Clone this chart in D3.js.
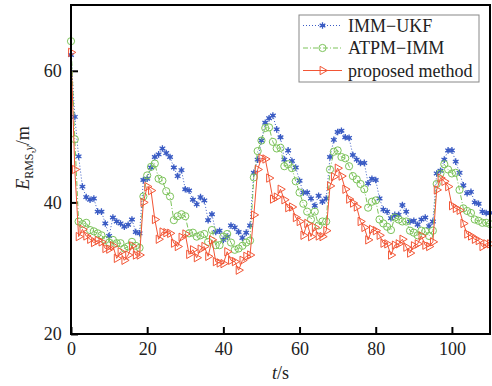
<!DOCTYPE html>
<html>
<head>
<meta charset="utf-8">
<script src="https://cdn.jsdelivr.net/npm/d3@7"></script>
<style>
  body { margin: 0; background: #fff; }
  text { font-family: "Liberation Serif", "Times New Roman", serif; }
</style>
</head>
<body>
<div id="chart"></div>
<script>
// values, one per second from t = 0 to 110
var immUkf = [62.4, 53.0, 47.0, 42.4, 40.8, 40.4, 40.6, 38.6, 38.6, 36.8,
  34.9, 37.7, 37.1, 36.8, 36.3, 36.6, 37.4, 35.5, 35.3, 43.4,
  43.6, 45.3, 46.9, 47.3, 48.2, 47.5, 46.9, 45.3, 44.0, 44.9,
  42.0, 41.8, 40.4, 39.7, 40.8, 40.3, 37.3, 38.2, 35.5, 35.7,
  34.3, 34.8, 36.5, 36.2, 35.5, 34.6, 35.4, 36.5, 44.5, 46.5,
  49.4, 52.1, 52.8, 53.2, 51.1, 49.9, 46.5, 47.9, 46.3, 45.3,
  43.3, 41.5, 41.5, 40.6, 39.5, 41.0, 40.1, 40.6, 46.9, 49.5,
  50.7, 50.9, 49.9, 49.8, 47.2, 46.5, 46.0, 46.0, 42.9, 43.6,
  43.4, 40.6, 38.9, 38.6, 37.6, 38.1, 38.1, 39.6, 38.6, 37.1,
  37.2, 36.6, 37.4, 37.7, 36.4, 37.1, 44.4, 44.8, 46.5, 47.9,
  47.9, 46.2, 44.5, 42.6, 41.4, 41.6, 40.0, 39.8, 38.6, 38.4, 38.4];

var atpmImm = [64.5, 49.6, 37.1, 36.7, 36.9, 35.8, 35.6, 35.3, 35.0, 34.3,
  33.9, 34.3, 33.8, 33.8, 33.0, 33.3, 34.0, 33.4, 33.1, 40.9,
  44.1, 45.4, 45.9, 43.6, 43.3, 41.7, 40.9, 37.3, 37.9, 38.2,
  37.9, 35.3, 35.4, 34.8, 35.0, 35.2, 34.0, 35.8, 33.5, 33.5,
  34.8, 35.2, 33.9, 32.8, 33.0, 33.4, 33.9, 34.2, 43.8, 47.8,
  49.4, 51.3, 51.4, 49.2, 48.2, 48.3, 45.5, 45.8, 45.2, 43.2,
  41.5, 39.8, 38.6, 37.4, 38.6, 36.5, 37.1, 37.1, 45.0, 47.7,
  47.9, 46.9, 46.7, 45.5, 44.0, 43.5, 42.8, 42.0, 39.2, 40.1,
  40.3, 37.4, 36.8, 36.3, 35.8, 37.7, 37.4, 37.1, 37.1, 35.7,
  35.4, 35.0, 35.7, 35.6, 34.9, 35.7, 42.8, 44.4, 45.8, 45.0,
  44.4, 44.5, 41.9, 39.1, 38.7, 38.4, 37.4, 37.2, 36.9, 36.9, 36.7];

var proposed = [62.8, 45.0, 34.8, 35.9, 34.9, 34.4, 33.9, 34.2, 34.0, 33.0,
  32.9, 33.4, 31.5, 32.5, 31.2, 32.0, 33.4, 32.0, 32.0, 40.0,
  42.4, 41.8, 37.4, 34.4, 35.5, 35.4, 35.3, 33.8, 33.3, 34.7,
  35.2, 32.1, 32.8, 31.6, 32.9, 33.3, 31.8, 34.3, 31.0, 30.8,
  30.7, 32.5, 31.2, 31.0, 29.7, 31.2, 31.8, 32.0, 38.1, 45.0,
  46.7, 46.6, 43.7, 40.5, 40.8, 42.0, 40.4, 39.2, 39.3, 37.7,
  37.1, 35.0, 36.8, 34.8, 36.2, 34.9, 34.8, 35.7, 42.5, 43.9,
  45.2, 44.0, 42.0, 40.5, 39.9, 39.3, 37.1, 36.2, 34.3, 35.9,
  35.7, 35.0, 33.8, 33.7, 32.0, 33.5, 33.7, 34.4, 33.2, 32.3,
  33.4, 33.7, 34.9, 33.5, 33.3, 34.0, 41.9, 43.7, 43.2, 42.4,
  39.5, 39.1, 38.8, 36.8, 35.2, 34.9, 34.4, 34.2, 33.3, 33.7, 33.7];

var seriesNames = ["IMM\u2212UKF", "ATPM\u2212IMM", "proposed method"];
var xTicks = [0, 20, 40, 60, 80, 100];
var yTicks = [20, 40, 60];

var margin = { top: 5, right: 2, bottom: 52, left: 71 },
    width = 492 - margin.left - margin.right,
    height = 386 - margin.top - margin.bottom;

var svg = d3.select("#chart").append("svg")
    .attr("width", 492)
    .attr("height", 386);

var g = svg.append("g")
    .attr("transform", "translate(" + margin.left + "," + margin.top + ")");

var xScale = d3.scaleLinear().domain([0, 110]).range([0, width]);
var yScale = d3.scaleLinear().domain([20, 70]).range([height, 0]);

// axes: inward ticks, labels outside
var xAxis = d3.axisBottom(xScale).tickValues(xTicks).tickSizeInner(-7).tickSizeOuter(0).tickPadding(11);
var yAxis = d3.axisLeft(yScale).tickValues(yTicks).tickSizeInner(-7).tickSizeOuter(0).tickPadding(11);

var xg = g.append("g")
    .attr("transform", "translate(0," + height + ")")
    .call(xAxis);
var yg = g.append("g").call(yAxis);

[xg, yg].forEach(function (ax) {
    ax.select(".domain").remove();
    ax.selectAll(".tick line").attr("stroke", "#000").attr("stroke-width", 2);
    ax.selectAll(".tick text")
        .attr("fill", "#222")
        .style("font-size", "18px")
        .style("font-family", "'Liberation Serif', serif");
});
xg.selectAll(".tick text").attr("dy", "0.55em");
yg.selectAll(".tick text").attr("dx", "0.1em");

var series = [
    { name: seriesNames[0], values: immUkf, color: "#3b5cc4", dash: "1,2", symbol: "star" },
    { name: seriesNames[1], values: atpmImm, color: "#7cc35a", dash: "5,2,1,2", symbol: "circle" },
    { name: seriesNames[2], values: proposed, color: "#f25535", dash: null, symbol: "tri" }
];

var line = d3.line()
    .x(function (d, i) { return xScale(i); })
    .y(function (d) { return yScale(d); });

function drawMarker(sel, s) {
    if (s.symbol == "star") {
        sel.append("path")
            .attr("d", d3.symbol().type(d3.symbolAsterisk).size(30))
            .attr("fill", "none")
            .attr("stroke", s.color)
            .attr("stroke-width", 1.3);
        sel.append("circle")
            .attr("r", 1.8)
            .attr("fill", s.color);
    } else if (s.symbol == "circle") {
        sel.append("circle")
            .attr("r", 3.6)
            .attr("fill", "none")
            .attr("stroke", s.color)
            .attr("stroke-width", 1);
    } else {
        sel.append("path")
            .attr("d", d3.symbol().type(d3.symbolTriangle).size(30))
            .attr("transform", "rotate(90)")
            .attr("fill", "none")
            .attr("stroke", s.color)
            .attr("stroke-width", 1);
    }
}

var plot = g.append("g");

series.forEach(function (s) {
    plot.append("path")
        .datum(s.values)
        .attr("d", line)
        .attr("fill", "none")
        .attr("stroke", s.color)
        .attr("stroke-width", 1)
        .attr("stroke-dasharray", s.dash);

    plot.selectAll(".m-" + s.symbol)
        .data(s.values)
        .enter()
        .append("g")
        .attr("class", "m-" + s.symbol)
        .attr("transform", function (d, i) {
            return "translate(" + xScale(i) + "," + yScale(d) + ")";
        })
        .each(function () { drawMarker(d3.select(this), s); });
});

// frame
g.append("rect")
    .attr("width", width)
    .attr("height", height)
    .attr("fill", "none")
    .attr("stroke", "#000")
    .attr("stroke-width", 2);

// legend
var legend = g.append("g").attr("transform", "translate(228,10)");
legend.append("rect")
    .attr("width", 180)
    .attr("height", 67)
    .attr("fill", "#fff")
    .attr("stroke", "#888")
    .attr("stroke-width", 1);

series.forEach(function (s, i) {
    var row = legend.append("g").attr("transform", "translate(4," + (10.5 + i * 22.5) + ")");
    row.append("line")
        .attr("x1", 0).attr("x2", 39)
        .attr("stroke", s.color)
        .attr("stroke-width", 1)
        .attr("stroke-dasharray", s.dash);
    var mk = row.append("g").attr("transform", "translate(19.5,0)");
    drawMarker(mk, s);
    row.append("text")
        .attr("x", 45)
        .attr("y", 6)
        .attr("fill", "#222")
        .style("font-size", "18px")
        .text(s.name);
});

// axis titles
var xt = svg.append("text")
    .attr("x", margin.left + xScale(55))
    .attr("y", 379)
    .attr("text-anchor", "middle")
    .attr("fill", "#222")
    .style("font-size", "18px");
xt.append("tspan").style("font-style", "italic").text("t");
xt.append("tspan").text("/s");

var yt = svg.append("text")
    .attr("transform", "translate(29,158) rotate(-90)")
    .attr("text-anchor", "middle")
    .attr("fill", "#222")
    .style("font-size", "18px");
yt.append("tspan").style("font-style", "italic").text("E");
yt.append("tspan").attr("dy", 4).style("font-size", "12px").text("RMS,");
yt.append("tspan").style("font-size", "12px").style("font-style", "italic").text("y");
yt.append("tspan").attr("dy", -4).text("/m");
</script>
</body>
</html>
